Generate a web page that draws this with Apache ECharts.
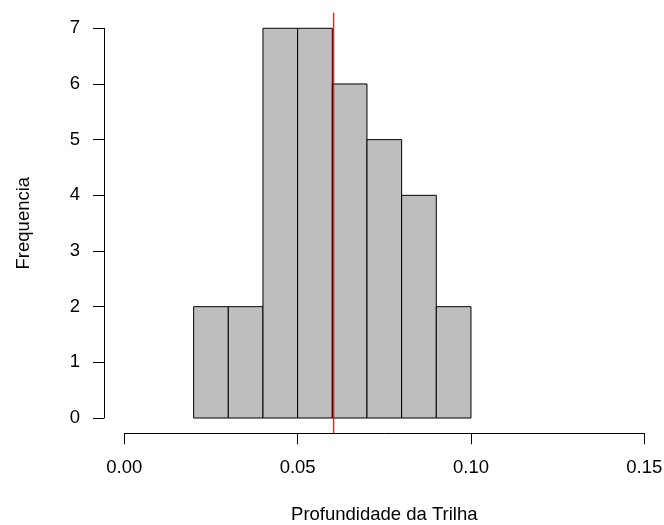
<!DOCTYPE html>
<html>
<head>
<meta charset="utf-8">
<script src="https://cdn.jsdelivr.net/npm/echarts@6/dist/echarts.min.js"></script>
<style>
html,body{margin:0;padding:0;background:#fff;}
#chart{width:664px;height:525px;}
</style>
</head>
<body>
<div id="chart"></div>
<script>
// Histogram data
var breaks = [0.02, 0.03, 0.04, 0.05, 0.06, 0.07, 0.08, 0.09, 0.10];
var counts = [2, 2, 7, 7, 6, 5, 4, 2];
var meanValue = 0.0604;
var xTicks = [0.00, 0.05, 0.10, 0.15];
var yTicks = [0, 1, 2, 3, 4, 5, 6, 7];
// R plot region extends 4% beyond the axis limits
var xRegion = [-0.006, 0.156];
var yRegion = [-0.28, 7.28];

var binData = counts.map(function (c, i) { return [breaks[i], breaks[i + 1], c]; });

var font = 'Liberation Sans, Arial, sans-serif';
var fs = 18.5;
var hidden = {show: false};
var chart = echarts.init(document.getElementById('chart'), null, {renderer: 'canvas'});
chart.setOption({
  animation: false,
  backgroundColor: '#ffffff',
  grid: [
    // plot region (bars, red line)
    {left: 103.5, right: -1.1, top: 12.7, bottom: 91.4, containLabel: false, outerBoundsMode: 'none'},
    // x axis drawing
    {left: 124.3, right: 19.7, top: 28.3, bottom: 91.7, containLabel: false, outerBoundsMode: 'none'},
    // y axis drawing
    {left: 104, right: 19.7, top: 28.3, bottom: 107, containLabel: false, outerBoundsMode: 'none'}
  ],
  xAxis: [
    {gridIndex: 0, type: 'value', min: xRegion[0], max: xRegion[1],
      axisLine: hidden, axisTick: hidden, axisLabel: hidden, splitLine: hidden},
    {gridIndex: 1, type: 'value', min: xTicks[0], max: xTicks[xTicks.length - 1], interval: 0.05,
      axisLine: {show: true, onZero: false, lineStyle: {color: '#000', width: 1}},
      axisTick: {show: true, length: 11, lineStyle: {color: '#000', width: 1}},
      axisLabel: {color: '#000', fontFamily: font, fontSize: fs, margin: 25,
        formatter: function (v) { return v.toFixed(2); }},
      splitLine: hidden,
      name: 'Profundidade da Trilha', nameLocation: 'middle', nameGap: 72, nameMoveOverlap: false,
      nameTextStyle: {color: '#000', fontFamily: font, fontSize: fs}},
    {gridIndex: 2, type: 'value', min: 0, max: 1,
      axisLine: hidden, axisTick: hidden, axisLabel: hidden, splitLine: hidden}
  ],
  yAxis: [
    {gridIndex: 0, type: 'value', min: yRegion[0], max: yRegion[1],
      axisLine: hidden, axisTick: hidden, axisLabel: hidden, splitLine: hidden},
    {gridIndex: 1, type: 'value', min: 0, max: 1,
      axisLine: hidden, axisTick: hidden, axisLabel: hidden, splitLine: hidden},
    {gridIndex: 2, type: 'value', min: yTicks[0], max: yTicks[yTicks.length - 1], interval: 1,
      axisLine: {show: true, onZero: false, lineStyle: {color: '#000', width: 1}},
      axisTick: {show: true, length: 11, lineStyle: {color: '#000', width: 1}},
      axisLabel: {color: '#000', fontFamily: font, fontSize: fs, margin: 24},
      splitLine: hidden,
      name: 'Frequencia', nameLocation: 'middle', nameGap: 71, nameRotate: 90, nameMoveOverlap: false,
      nameTextStyle: {color: '#000', fontFamily: font, fontSize: fs}}
  ],
  series: [
    {
      type: 'custom',
      xAxisIndex: 0, yAxisIndex: 0,
      data: binData,
      encode: {x: [0, 1], y: 2},
      renderItem: function (params, api) {
        var p0 = api.coord([api.value(0), api.value(2)]);
        var p1 = api.coord([api.value(1), 0]);
        return {
          type: 'rect',
          shape: {x: p0[0], y: p0[1], width: p1[0] - p0[0], height: p1[1] - p0[1]},
          style: {fill: '#BEBEBE', stroke: '#000', lineWidth: 1}
        };
      },
      z: 2
    },
    {
      type: 'line',
      xAxisIndex: 0, yAxisIndex: 0,
      data: [[meanValue, yRegion[0]], [meanValue, yRegion[1]]],
      symbol: 'none',
      silent: true,
      lineStyle: {color: '#FF0000', width: 1.2},
      z: 5
    }
  ]
});
</script>
</body>
</html>
